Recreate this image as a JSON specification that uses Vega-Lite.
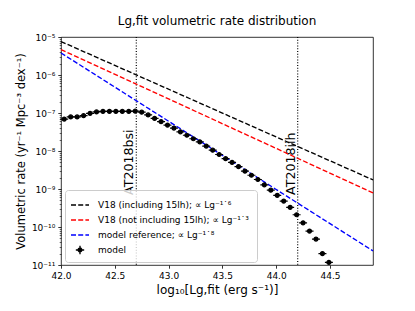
{
  "$schema": "https://vega.github.io/schema/vega-lite/v6.json",
  "width": 312,
  "height": 228,
  "autosize": {"type": "none"},
  "padding": {"left": 61, "top": 37, "right": 42, "bottom": 46},
  "background": "white",
  "title": {"text": "Lg,fit volumetric rate distribution", "font": "DejaVu Sans", "fontSize": 12, "fontWeight": "normal", "anchor": "middle", "offset": 5, "color": "black"},
  "config": {
    "view": {"stroke": "black", "strokeWidth": 0.8},
    "axis": {"grid": false, "domain": false, "labelFont": "DejaVu Sans", "labelFontSize": 9, "labelColor": "black", "titleFont": "DejaVu Sans", "titleFontSize": 11.5, "titleFontWeight": "normal", "titleColor": "black", "tickColor": "black", "tickWidth": 0.8, "tickSize": 3.2, "labelPadding": 3, "labelFlush": false, "labelOverlap": false}
  },
  "datasets": {
    "lines": [
      {"series": "V18 (including 15lh);  ∝ Lg⁻¹˙⁶", "x": 42.0, "y": 7.6e-6},
      {"series": "V18 (including 15lh);  ∝ Lg⁻¹˙⁶", "x": 44.9, "y": 1.74e-9},
      {"series": "V18 (not including 15lh);  ∝ Lg⁻¹˙³", "x": 42.0, "y": 4.68e-6},
      {"series": "V18 (not including 15lh);  ∝ Lg⁻¹˙³", "x": 44.9, "y": 7.9e-10},
      {"series": "model reference;  ∝ Lg⁻¹˙⁸", "x": 42.0, "y": 3.8e-6},
      {"series": "model reference;  ∝ Lg⁻¹˙⁸", "x": 44.9, "y": 2.35e-11}
    ],
    "model": [
      {"x": 42.03, "y": 6.9e-8}, {"x": 42.09, "y": 7.9e-8}, {"x": 42.15, "y": 7.9e-8}, {"x": 42.21, "y": 8.5e-8},
      {"x": 42.27, "y": 9.8e-8}, {"x": 42.33, "y": 1.07e-7}, {"x": 42.39, "y": 1.1e-7}, {"x": 42.45, "y": 1.1e-7},
      {"x": 42.51, "y": 1.1e-7}, {"x": 42.57, "y": 1.1e-7}, {"x": 42.63, "y": 1.1e-7}, {"x": 42.69, "y": 1.12e-7},
      {"x": 42.75, "y": 1.05e-7}, {"x": 42.81, "y": 8.9e-8}, {"x": 42.87, "y": 7.2e-8}, {"x": 42.93, "y": 5.9e-8},
      {"x": 42.99, "y": 4.8e-8}, {"x": 43.05, "y": 4.0e-8}, {"x": 43.11, "y": 3.2e-8}, {"x": 43.17, "y": 2.6e-8},
      {"x": 43.23, "y": 2.1e-8}, {"x": 43.29, "y": 1.74e-8}, {"x": 43.35, "y": 1.35e-8}, {"x": 43.41, "y": 1.05e-8},
      {"x": 43.47, "y": 8.1e-9}, {"x": 43.53, "y": 6.3e-9}, {"x": 43.59, "y": 5.0e-9}, {"x": 43.65, "y": 3.9e-9},
      {"x": 43.71, "y": 2.95e-9}, {"x": 43.77, "y": 2.3e-9}, {"x": 43.83, "y": 1.78e-9}, {"x": 43.89, "y": 1.29e-9},
      {"x": 43.95, "y": 9.3e-10}, {"x": 44.01, "y": 6.8e-10}, {"x": 44.07, "y": 4.8e-10}, {"x": 44.13, "y": 3.3e-10},
      {"x": 44.19, "y": 2.1e-10}, {"x": 44.25, "y": 1.29e-10}, {"x": 44.31, "y": 7.8e-11}, {"x": 44.37, "y": 4.8e-11},
      {"x": 44.43, "y": 2.0e-11}, {"x": 44.49, "y": 1.17e-11}
    ],
    "events": [
      {"name": "AT2018bsi", "x": 42.7},
      {"name": "AT2018iih", "x": 44.2}
    ]
  },
  "layer": [
    {
      "data": {"name": "events"},
      "mark": {"type": "rule", "color": "black", "strokeWidth": 1.2, "strokeDash": [1, 1.8]},
      "encoding": {
        "x": {"field": "x", "type": "quantitative", "scale": {"domain": [42, 44.9], "nice": false, "zero": false}}
      }
    },
    {
      "data": {"name": "events"},
      "mark": {"type": "text", "angle": 270, "align": "left", "baseline": "bottom", "font": "DejaVu Sans", "fontSize": 12.6, "color": "black"},
      "encoding": {
        "x": {"field": "x", "type": "quantitative", "scale": {"domain": [42, 44.9], "nice": false, "zero": false}},
        "y": {"datum": 7e-10, "type": "quantitative", "scale": {"type": "log", "domain": [1e-11, 1e-5], "nice": false}},
        "text": {"field": "name"}
      }
    },
    {
      "data": {"name": "lines"},
      "mark": {"type": "line", "strokeWidth": 1.35, "strokeDash": [5, 2.2]},
      "encoding": {
        "x": {"field": "x", "type": "quantitative", "scale": {"domain": [42, 44.9], "nice": false, "zero": false},
          "axis": {"title": "log₁₀[Lg,fit (erg s⁻¹)]", "titleFontSize": 12, "values": [42, 42.5, 43, 43.5, 44, 44.5], "format": ".1f", "titlePadding": 4}},
        "y": {"field": "y", "type": "quantitative", "scale": {"type": "log", "domain": [1e-11, 1e-5], "nice": false},
          "axis": {
            "title": "Volumetric rate (yr⁻¹ Mpc⁻³ dex⁻¹)",
            "titlePadding": 5,
            "values": [1e-11, 2e-11, 3e-11, 4e-11, 5e-11, 6e-11, 7e-11, 8e-11, 9e-11,
                       1e-10, 2e-10, 3e-10, 4e-10, 5e-10, 6e-10, 7e-10, 8e-10, 9e-10,
                       1e-9, 2e-9, 3e-9, 4e-9, 5e-9, 6e-9, 7e-9, 8e-9, 9e-9,
                       1e-8, 2e-8, 3e-8, 4e-8, 5e-8, 6e-8, 7e-8, 8e-8, 9e-8,
                       1e-7, 2e-7, 3e-7, 4e-7, 5e-7, 6e-7, 7e-7, 8e-7, 9e-7,
                       1e-6, 2e-6, 3e-6, 4e-6, 5e-6, 6e-6, 7e-6, 8e-6, 9e-6, 1e-5],
            "labelExpr": "abs(log(datum.value)/LN10 - round(log(datum.value)/LN10)) < 0.001 ? '10⁻' + ['⁰','¹','²','³','⁴','⁵','⁶','⁷','⁸','⁹','¹⁰','¹¹'][-round(log(datum.value)/LN10)] : ''",
            "tickSize": {"condition": {"test": "abs(log(datum.value)/LN10 - round(log(datum.value)/LN10)) < 0.001", "value": 3.2}, "value": 1.8},
            "tickWidth": {"condition": {"test": "abs(log(datum.value)/LN10 - round(log(datum.value)/LN10)) < 0.001", "value": 0.8}, "value": 0.6}
          }},
        "color": {"field": "series", "type": "nominal",
          "scale": {"domain": ["V18 (including 15lh);  ∝ Lg⁻¹˙⁶", "V18 (not including 15lh);  ∝ Lg⁻¹˙³", "model reference;  ∝ Lg⁻¹˙⁸", "model"],
                    "range": ["#000000", "#ff0000", "#0000ff", "#000000"]},
          "legend": {
            "orient": "none", "legendX": 4, "legendY": 153, "title": null,
            "labelFont": "DejaVu Sans", "labelFontSize": 9, "labelColor": "black", "labelLimit": 400,
            "symbolType": "stroke", "symbolSize": 324, "symbolStrokeWidth": 1.35, "symbolDash": [5, 2.2],
            "labelOffset": 8, "rowPadding": 0, "padding": 5,
            "fillColor": "rgba(255,255,255,0.8)", "strokeColor": "#cccccc", "cornerRadius": 3,
            "encode": {"symbols": {"update": {
              "shape": {"signal": "datum.value === 'model' ? 'M-1,0L1,0M0,-1L0,1M-0.45,0A0.45,0.45,0,1,0,0.45,0A0.45,0.45,0,1,0,-0.45,0Z' : 'stroke'"},
              "size": {"signal": "datum.value === 'model' ? 70 : 324"},
              "strokeDash": {"signal": "datum.value === 'model' ? [1, 0] : [5, 2.2]"},
              "fill": {"value": "black"}
            }}}
          }},
        "detail": {"field": "series"}
      }
    },
    {
      "data": {"name": "model"},
      "mark": {"type": "point", "shape": "M-1,0L1,0M-0.5,0A0.5,0.5,0,1,0,0.5,0A0.5,0.5,0,1,0,-0.5,0Z", "size": 64, "fill": "black", "stroke": "black", "strokeWidth": 1.2, "opacity": 1, "fillOpacity": 1},
      "encoding": {
        "x": {"field": "x", "type": "quantitative", "scale": {"domain": [42, 44.9], "nice": false, "zero": false}},
        "y": {"field": "y", "type": "quantitative", "scale": {"type": "log", "domain": [1e-11, 1e-5], "nice": false}}
      }
    }
  ]
}
